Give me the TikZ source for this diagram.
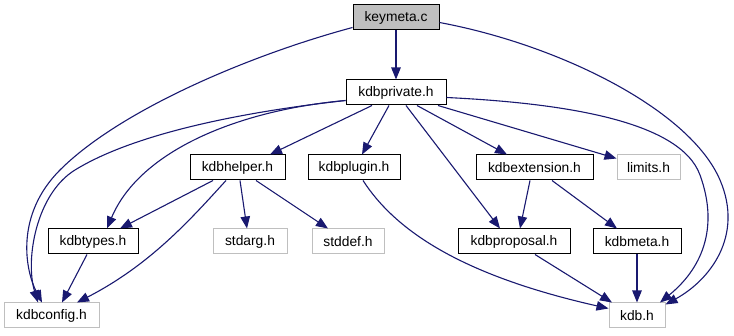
\documentclass[tikz,border=0pt]{standalone}
\usepackage{fontspec}
\setmainfont{Liberation Sans}
\usetikzlibrary{arrows.meta,calc}
\definecolor{edgeblue}{HTML}{191970}
\definecolor{extgray}{HTML}{BFBFBF}
\tikzset{
  file/.style={draw=black, line width=1pt, fill=white, minimum height=25pt,
    inner sep=0pt, font=\fontsize{13.8}{16}\selectfont},
  extfile/.style={file, draw=extgray},
  rootfile/.style={file, fill=extgray},
  dep/.style={draw=edgeblue, line width=1.1pt,
    -{Triangle[length=12pt,width=9.5pt]}},
}
\begin{document}
\begin{tikzpicture}[x=1pt,y=-1pt]
\useasboundingbox (0,0) rectangle (734,336);

% headers
\node[rootfile, minimum width=86pt]  (km)    at (396,17.5)  {keymeta.c};
\node[file,     minimum width=100pt] (kp)    at (396,92.5)  {kdbprivate.h};
\node[file,     minimum width=95pt]  (kh)    at (237.5,167.5) {kdbhelper.h};
\node[file,     minimum width=92pt]  (kplug) at (354,167.5) {kdbplugin.h};
\node[file,     minimum width=117pt] (kext)  at (534.5,167.5) {kdbextension.h};
\node[extfile,  minimum width=63pt]  (lim)   at (648.5,167.5) {limits.h};
\node[file,     minimum width=90pt]  (kt)    at (93,241.5)  {kdbtypes.h};
\node[extfile,  minimum width=74pt]  (sa)    at (250,241.5) {stdarg.h};
\node[extfile,  minimum width=72pt]  (sd)    at (348,241.5) {stddef.h};
\node[file,     minimum width=112pt] (kprop) at (514,241.5) {kdbproposal.h};
\node[file,     minimum width=88pt]  (kmeta) at (637,241.5) {kdbmeta.h};
\node[extfile,  minimum width=95pt]  (kc)    at (51.5,315.5) {kdbconfig.h};
\node[extfile,  minimum width=56pt]  (kdb)   at (637,315.5) {kdb.h};

% includes of keymeta.c
\draw[dep] (km.south) -- (kp.north);
\draw[dep] ($(km.west)+(0,10)$) .. controls (250,55) and (120,110) .. (60,170)
  .. controls (15,215) and (25,270) .. ($(kc.north)+(-9.5,0)$);
\draw[dep] ($(km.east)+(0,5)$) .. controls (560,45) and (690,110) .. (720,180)
  .. controls (744,236) and (710,280) .. ($(kdb.east)+(0,-11)$);

% includes of kdbprivate.h
\draw[dep] ($(kp.south)+(-24,0)$) -- ($(kh.north)+(32.5,0)$);
\draw[dep] ($(kp.south)+(-7,0)$) -- ($(kplug.north)+(8,0)$);
\draw[dep] ($(kp.south)+(10,0)$) -- ($(kprop.north)+(-14,0)$);
\draw[dep] ($(kp.south)+(21,0)$) -- ($(kext.north)+(-27.5,0)$);
\draw[dep] ($(kp.south)+(42,0)$) -- ($(lim.west)+(0,-9)$);
\draw[dep] ($(kp.west)+(0,8)$) .. controls (240,110) and (140,150) .. ($(kt.north)+(14,0)$);
\draw[dep] ($(kp.west)+(0,8)$) .. controls (260,110) and (140,130) .. (75,170)
  .. controls (36,194) and (25,260) .. ($(kc.north)+(-13.5,0)$);
\draw[dep] ($(kp.east)+(0,5)$) .. controls (560,103) and (680,120) .. (700,175)
  .. controls (720,230) and (700,270) .. ($(kdb.north)+(23,0)$);

% includes of kdbhelper.h
\draw[dep] ($(kh.south)+(-24.5,0)$) -- ($(kt.north)+(27,0)$);
\draw[dep] ($(kh.south)+(-11.5,0)$) .. controls (190,220) and (150,265) .. ($(kc.north)+(25.5,0)$);
\draw[dep] ($(kh.south)+(2.5,0)$) -- ($(sa.north)+(-3,0)$);
\draw[dep] ($(kh.south)+(18.5,0)$) -- ($(sd.north)+(-20,0)$);

% remaining includes
\draw[dep] ($(kplug.south)+(9,0)$) .. controls (395,230) and (460,275) .. ($(kdb.west)+(0,-7)$);
\draw[dep] ($(kt.south)+(-6,0)$) -- ($(kc.north)+(10.5,0)$);
\draw[dep] ($(kext.south)+(-4.5,0)$) -- ($(kprop.north)+(6,0)$);
\draw[dep] ($(kext.south)+(17.5,0)$) -- ($(kmeta.north)+(-20,0)$);
\draw[dep] ($(kprop.south)+(21,0)$) -- ($(kdb.north)+(-25,0)$);
\draw[dep] (kmeta.south) -- (kdb.north);
\end{tikzpicture}
\end{document}
